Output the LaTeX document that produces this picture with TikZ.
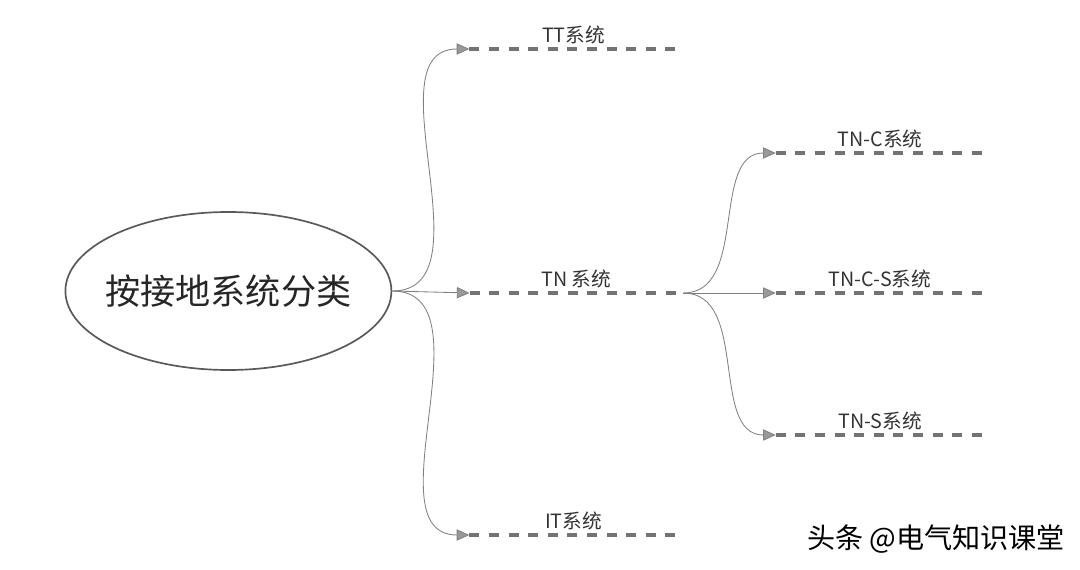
\documentclass[tikz,border=0pt]{standalone}
\usepackage{fontspec}
\setmainfont{Noto Sans CJK SC}
\usetikzlibrary{positioning,shapes,arrows.meta}
\tikzstyle{root} = [ellipse, draw=black!65, line width=1.2pt, minimum width=8.15cm, minimum height=3.95cm, inner sep=0pt, text=black!85, font=\fontsize{25}{30}\selectfont]
\tikzstyle{leaf} = [rectangle, inner sep=0pt, minimum height=0pt, minimum width=5.2cm, label distance=0.22cm]
\tikzstyle{dashline} = [draw=black!55, line width=3pt, dash pattern=on 0.25cm off 0.24cm]
\tikzstyle{arrow} = [-{Triangle[length=9pt,width=8pt,fill=black!40]}, draw=black!50, line width=0.6pt]
\tikzstyle{caption} = [text=black!80, font=\fontsize{14}{16}\selectfont]

\begin{document}
\begin{tikzpicture}
		\useasboundingbox (0,0) rectangle (27,14.225);
		\node (root) [root] at (5.71,6.95) {\makebox[0pt]{按接地系统分类}};
		\node (tt) [leaf,label={[caption]above:TT系统}] at (14.34,13.0) {};
		\node (tn) [leaf,minimum width=5.33cm,label={[caption]above:TN 系统}] at (14.41,6.9) {};
		\node (it) [leaf,label={[caption]above:IT系统}] at (14.34,0.85) {};
		\node (tnc) [leaf,label={[caption]above:TN-C系统}] at (22.0,10.4) {};
		\node (tncs) [leaf,label={[caption]above:TN-C-S系统}] at (22.0,6.9) {};
		\node (tns) [leaf,label={[caption]above:TN-S系统}] at (22.0,3.35) {};
		
		\draw [arrow] (root.east) to[out=0,in=180] (tt.west);
		\draw [arrow] (root.east) -- (tn.west);
		\draw [arrow] (root.east) to[out=0,in=180] (it.west);
		\draw [arrow] (tn.east) to[out=0,in=180] (tnc.west);
		\draw [arrow] (tn.east) -- (tncs.west);
		\draw [arrow] (tn.east) to[out=0,in=180] (tns.west);
		
		\draw [dashline] (tt.west) -- (tt.east);
		\draw [dashline] (tn.west) -- (tn.east);
		\draw [dashline] (it.west) -- (it.east);
		\draw [dashline] (tnc.west) -- (tnc.east);
		\draw [dashline] (tncs.west) -- (tncs.east);
		\draw [dashline] (tns.west) -- (tns.east);
		
		\node (mark) [black,font=\fontsize{20}{24}\selectfont] at (23.4,0.75) {头条 @电气知识课堂};
	\end{tikzpicture}
\end{document}
